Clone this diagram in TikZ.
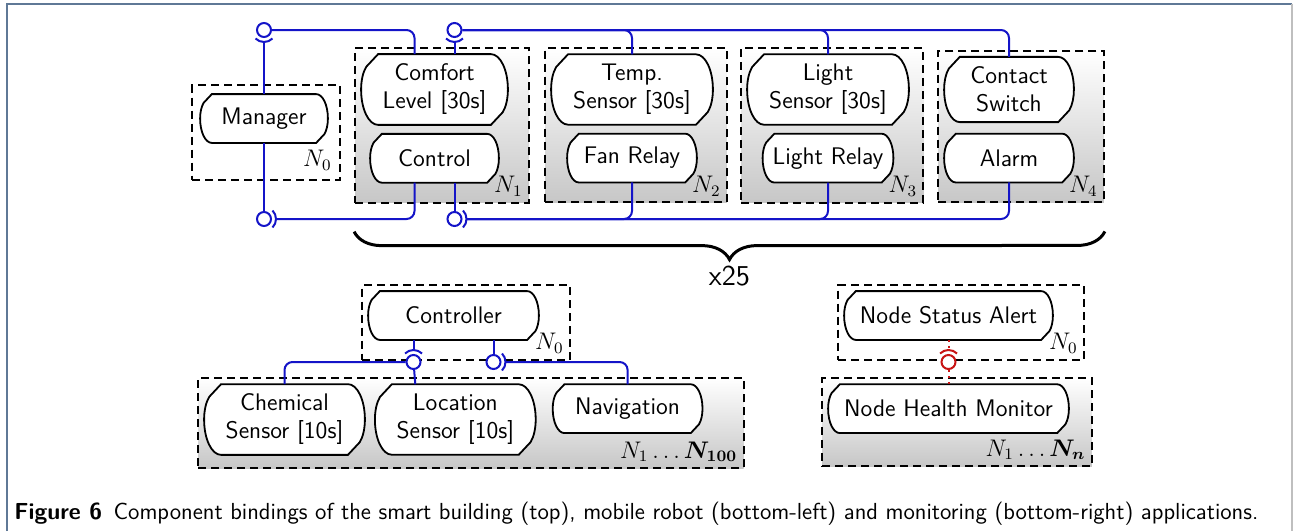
\documentclass[tikz,border=0pt]{standalone}
\usepackage{amsmath,amssymb}
\usepackage{tikz}
\usetikzlibrary{positioning,calc,fit,backgrounds,decorations.pathreplacing}

\definecolor{wireblue}{RGB}{20,20,200}
\definecolor{alertred}{RGB}{200,20,20}
\definecolor{framegray}{RGB}{95,120,150}

% component outline: rounded ends, chamfered top-left and bottom-right
\makeatletter
\newdimen\cmpL \newdimen\cmpR \newdimen\cmpT \newdimen\cmpB
\newdimen\cmpD \newdimen\cmpH \newdimen\cmpM
\pgfdeclareshape{component}{
  \inheritsavedanchors[from=rectangle]
  \inheritanchorborder[from=rectangle]
  \inheritanchor[from=rectangle]{center}
  \inheritanchor[from=rectangle]{north}
  \inheritanchor[from=rectangle]{south}
  \inheritanchor[from=rectangle]{east}
  \inheritanchor[from=rectangle]{west}
  \inheritanchor[from=rectangle]{north east}
  \inheritanchor[from=rectangle]{north west}
  \inheritanchor[from=rectangle]{south east}
  \inheritanchor[from=rectangle]{south west}
  \inheritanchor[from=rectangle]{base}
  \backgroundpath{
    \southwest \cmpL=\pgf@x \cmpB=\pgf@y
    \northeast \cmpR=\pgf@x \cmpT=\pgf@y
    \cmpH=\cmpT \advance\cmpH by -\cmpB
    \cmpD=.24\cmpH
    \cmpM=\cmpB \advance\cmpM by .5\cmpH
    \pgfpathmoveto{\pgfqpoint{\dimexpr\cmpL+\cmpD\relax}{\cmpT}}
    \pgfpathlineto{\pgfqpoint{\dimexpr\cmpR-\cmpD\relax}{\cmpT}}
    \pgfpathcurveto{\pgfqpoint{\dimexpr\cmpR-.45\cmpD\relax}{\cmpT}}
      {\pgfqpoint{\cmpR}{\dimexpr\cmpT-.22\cmpH\relax}}
      {\pgfqpoint{\cmpR}{\cmpM}}
    \pgfpathcurveto{\pgfqpoint{\cmpR}{\dimexpr\cmpM-.12\cmpH\relax}}
      {\pgfqpoint{\dimexpr\cmpR-.1\cmpD\relax}{\dimexpr\cmpB+.26\cmpH\relax}}
      {\pgfqpoint{\dimexpr\cmpR-.3\cmpD\relax}{\dimexpr\cmpB+.18\cmpH\relax}}
    \pgfpathlineto{\pgfqpoint{\dimexpr\cmpR-\cmpD\relax}{\cmpB}}
    \pgfpathlineto{\pgfqpoint{\dimexpr\cmpL+\cmpD\relax}{\cmpB}}
    \pgfpathcurveto{\pgfqpoint{\dimexpr\cmpL+.45\cmpD\relax}{\cmpB}}
      {\pgfqpoint{\cmpL}{\dimexpr\cmpB+.22\cmpH\relax}}
      {\pgfqpoint{\cmpL}{\cmpM}}
    \pgfpathcurveto{\pgfqpoint{\cmpL}{\dimexpr\cmpM+.12\cmpH\relax}}
      {\pgfqpoint{\dimexpr\cmpL+.1\cmpD\relax}{\dimexpr\cmpT-.26\cmpH\relax}}
      {\pgfqpoint{\dimexpr\cmpL+.3\cmpD\relax}{\dimexpr\cmpT-.18\cmpH\relax}}
    \pgfpathclose
  }
}
\makeatother

\tikzset{
  comp/.style={shape=component, draw, line width=0.9pt, fill=white, font=\sffamily\large,
    align=center, inner xsep=2pt, inner ysep=4.5pt, minimum height=23.5pt},
  grp/.style={draw, line width=1pt, dash pattern=on 4pt off 2.5pt, inner sep=3pt},
  grpfill/.style={grp, top color=white, bottom color=black!22},
  nlbl/.style={font=\large, inner sep=0pt, anchor=base east},
  wire/.style={draw=wireblue, line width=1pt, rounded corners=4pt},
  alertwire/.style={draw=alertred, line width=1pt, dotted},
  ball/.style={circle, draw=wireblue, fill=white, line width=1pt, minimum size=7pt, inner sep=0pt},
  pics/socket/.style={code={\draw[line width=1pt] (-45:6pt) arc[start angle=-45, end angle=45, radius=6pt];}}
}

\begin{document}
\begin{tikzpicture}[x=0.5pt, y=-0.5pt]
\useasboundingbox (0,0) rectangle (1294,531);

% page frame
\draw[framegray, line width=1pt] (7,531) -- (7,3.5) -- (1292,3.5);
\draw[black!25, line width=1pt] (1292,3.5) -- (1292,531);

% smart building
\node[comp, minimum width=63pt] (mgr) at (264,118.5) {Manager};
\node[comp, minimum width=72.5pt] (comfort) at (434.5,89.5) {Comfort\\Level [30s]};
\node[comp, minimum width=63.5pt, below=4.5pt of comfort] (ctrl) {Control};
\node[comp, minimum width=80pt] (temp) at (632,89.5) {Temp.\\Sensor [30s]};
\node[comp, minimum width=64pt, below=4.5pt of temp] (fan) {Fan Relay};
\node[comp, minimum width=80pt] (lsens) at (828,89.5) {Light\\Sensor [30s]};
\node[comp, minimum width=64.5pt, below=4.5pt of lsens] (lrelay) {Light Relay};
\node[comp, minimum width=64pt] (contact) at (1009,89.5) {Contact\\Switch};
\node[comp, minimum width=64pt] (alarm) at (contact |- fan) {Alarm};

\node[nlbl] (l0) at ([xshift=2pt,yshift=-12pt]mgr.south east) {$N_0$};
\node[nlbl] (l1) at ([xshift=12pt,yshift=-5pt]ctrl.south east) {$N_1$};
\node[nlbl] (l2) at ([xshift=12pt,yshift=-5pt]fan.south east) {$N_2$};
\node[nlbl] (l3) at ([xshift=12pt,yshift=-5pt]lrelay.south east) {$N_3$};
\node[nlbl] (l4) at ([xshift=12pt,yshift=-5pt]alarm.south east) {$N_4$};

% mobile robot
\node[comp, minimum width=84.5pt] (ctl) at (453.5,315.5) {Controller};
\node[comp, minimum width=79.5pt] (chem) at (284.5,419.5) {Chemical\\Sensor [10s]};
\node[comp, minimum width=79.5pt, right=5pt of chem] (loc) {Location\\Sensor [10s]};
\node[comp, minimum width=74pt, anchor=north west] (nav) at ([xshift=8.5pt]loc.north east) {Navigation};

\node[nlbl] (l5) at ([xshift=12.5pt,yshift=-5pt]ctl.south east) {$N_0$};
\node[nlbl] (l7) at ([xshift=17.5pt,yshift=-12.5pt]nav.south east) {$N_1\ldots\boldsymbol{N_{100}}$};

% monitoring
\node[comp, minimum width=103.5pt] (status) at (948.5,315.5) {Node Status Alert};
\node[comp, minimum width=119.5pt] (mon) at (status |- nav) {Node Health Monitor};

\node[nlbl] (l6) at ([xshift=12.5pt,yshift=-5pt]status.south east) {$N_0$};
\node[nlbl] (l8) at ([xshift=8.5pt,yshift=-11.5pt]mon.south east) {$N_1\ldots\boldsymbol{N_n}$};

% deployment boxes
\begin{scope}[on background layer]
  \node[grp, inner xsep=4pt, inner ysep=4.5pt, fit=(mgr)(l0)] (g0) {};
  \node[grpfill, fit=(comfort)(ctrl)(l1)] (g1) {};
  \node[grpfill, fit=(temp)(fan)(l2)] (g2) {};
  \node[grpfill, fit=(lsens)(lrelay)(l3)] (g3) {};
  \node[grpfill, fit=(contact)(alarm)(l4)] (g4) {};
  \node[grp, fit=(ctl)(l5)] (g5) {};
  \node[grp, fit=(status)(l6)] (g6) {};
  \node[grpfill, fit=(chem)(loc)(nav)(l7)] (g7) {};
  \node[grpfill, fit=(mon)(l8)] (g8) {};
\end{scope}

% interfaces: ball = provided, socket = required
\node[ball] (bA) at (264,30) {};
\node[ball] (bB) at (454.5,30) {};
\node[ball] (bC) at (264,219) {};
\node[ball] (bD) at (454.5,219) {};
\node[ball] (bE) at (413.5,362) {};
\node[ball] (bF) at (493.5,362) {};
\node[ball, draw=alertred] (bG) at (948.5,362) {};

\pic[color=wireblue, rotate=-90] at (bA) {socket};
\pic[color=wireblue, rotate=-90] at (bB) {socket};
\pic[color=wireblue] at (bC) {socket};
\pic[color=wireblue] at (bD) {socket};
\pic[color=wireblue, rotate=90] at (bE) {socket};
\pic[color=wireblue] at (bF) {socket};
\pic[color=alertred, rotate=90] at (bG) {socket};

\coordinate (sA) at ([yshift=-6pt]bA.center);
\coordinate (sB) at ([yshift=-6pt]bB.center);
\coordinate (sC) at ([xshift=6pt]bC.center);
\coordinate (sD) at ([xshift=6pt]bD.center);
\coordinate (sE) at ([yshift=6pt]bE.center);
\coordinate (sF) at ([xshift=6pt]bF.center);
\coordinate (sG) at ([yshift=6pt]bG.center);

% bindings
\draw[wire] (mgr.north) -- (sA);
\draw[wire] (bA) -| ([xshift=-10pt]comfort.north);
\draw[wire] ([xshift=10pt]comfort.north) -- (sB);
\draw[wire] (bB) -| (temp.north);
\draw[wire] (bB) -| (lsens.north);
\draw[wire] (bB) -| (contact.north);
\draw[wire] (mgr.south) -- (bC);
\draw[wire] (sC) -| ([xshift=-10pt]ctrl.south);
\draw[wire] ([xshift=10pt]ctrl.south) -- (bD);
\draw[wire] (sD) -| (fan.south);
\draw[wire] (sD) -| (lrelay.south);
\draw[wire] (sD) -| (alarm.south);

\draw[wire] ([xshift=-20pt]ctl.south) -- (sE);
\draw[wire] (bE) -| (chem.north);
\draw[wire] (bE) -- ([xshift=-20pt]loc.north);
\draw[wire] ([xshift=20pt]ctl.south) -- (bF);
\draw[wire] (sF) -| (nav.north);

\draw[alertwire] (status.south) -- (sG);
\draw[alertwire] (bG) -- (mon.north);

% replication of the building nodes
\draw[decorate, decoration={brace, mirror, amplitude=14pt}, line width=1.5pt]
  ([yshift=-14pt]g1.south west) -- node[midway, anchor=north, yshift=-13pt, font=\sffamily\Large] (rep) {x25}
  ([yshift=-14pt]g4.south east);

\node[anchor=base west, inner sep=0pt, font=\sffamily\fontsize{11.6}{14}\selectfont] (caption) at (14,519)
  {\textbf{Figure 6}\enspace Component bindings of the smart building (top), mobile robot (bottom-left) and monitoring (bottom-right) applications.};
\end{tikzpicture}
\end{document}
